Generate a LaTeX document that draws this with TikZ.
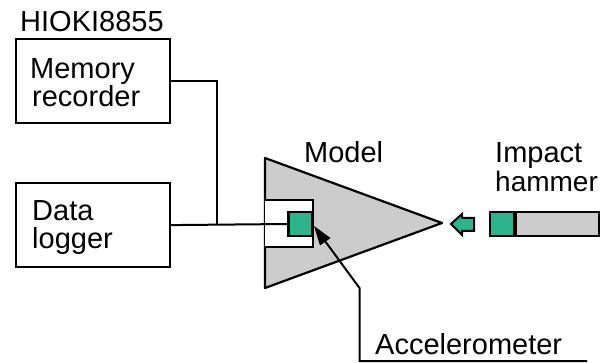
\documentclass[tikz,border=0pt]{standalone}
\usepackage{fontspec}
\setmainfont{Liberation Sans}
\definecolor{tealg}{RGB}{45,180,140}
\definecolor{greyf}{RGB}{204,204,204}
\tikzset{
  lbl/.style={anchor=base west,inner sep=0pt,font=\fontsize{29}{29}\selectfont,text=black},
  blk/.style={draw=black,line width=2.2pt,fill=white,minimum width=154pt,minimum height=84pt,anchor=north west,inner sep=0pt},
  wire/.style={draw=black,line width=2pt},
  part/.style={draw=black,line width=2.2pt},
}
\begin{document}
\begin{tikzpicture}[x=1pt,y=-1pt,line join=miter]
\useasboundingbox (0,0) rectangle (610,363);
% model
\draw[part,fill=greyf,line join=round] (265,158) -- (442,223) -- (265,288) -- cycle;
\draw[part,fill=white] (265,200) -- (313,200) -- (313,247) -- (265,247);
% blocks
\node[blk] (mem) at (15,38) {};
\node[blk] (dat) at (15,182) {};
\node[draw=black,line width=2.2pt,fill=tealg,minimum width=24pt,minimum height=24pt,inner sep=0pt] (acc) at (300.5,224) {};
% wires
\coordinate (jn) at (217,224);
\draw[wire] (mem.east) -| (jn);
\draw[wire] (dat.east) -- (acc.west);
% accelerometer leader
\coordinate (bend) at (359.5,288);
\coordinate (corner) at (359.5,361);
\coordinate (lend) at (587,361);
\coordinate (tip) at (314,226);
\draw[wire] (lend) -- (corner) -- (bend) -- (325,241);
\fill[black] (tip) -- (330.5,238) -- (320,245.5) -- cycle;
% hammer
\node[draw=black,line width=2.2pt,fill=greyf,minimum width=83pt,minimum height=24pt,inner sep=0pt,anchor=west] (hbody) at (515,224) {};
\node[draw=black,line width=2.2pt,fill=tealg,minimum width=24pt,minimum height=24pt,inner sep=0pt,anchor=east] (hhead) at (515,224) {};
% small arrow
\draw[draw=black,line width=2pt,fill=tealg,line join=miter] (451,224) -- (462,214) -- (462,218) -- (474,218) -- (474,231) -- (462,231) -- (462,235) -- cycle;
% text
\node[lbl] (t1) at (20,32) {HIOKI8855};
\node[lbl] (t2) at (30,79) {Memory};
\node[lbl] (t3) at (32,107) {recorder};
\node[lbl] (t4) at (32,221) {Data};
\node[lbl] (t5) at (32,249) {logger};
\node[lbl] (t6) at (304,163) {Model};
\node[lbl] (t7) at (495,163) {Impact};
\node[lbl,font=\fontsize{28}{28}\selectfont] (t8) at (495,192) {hammer};
\node[lbl] (t9) at (375,354) {Accelerometer};
\end{tikzpicture}
\end{document}
